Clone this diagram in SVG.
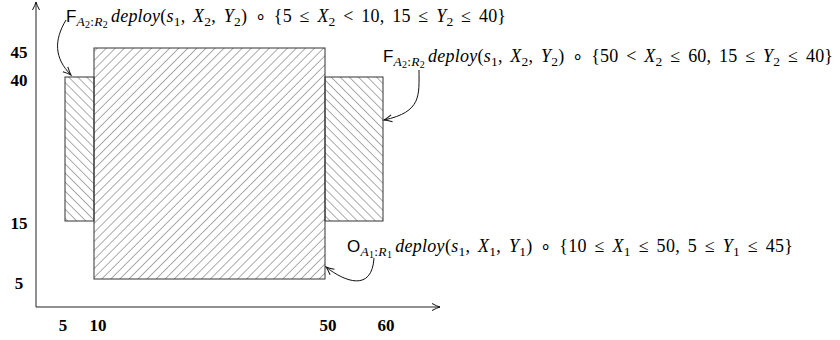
<svg xmlns="http://www.w3.org/2000/svg" width="840" height="340" viewBox="0 0 840 340">
<style>
.m{font-family:"Liberation Serif",serif;font-size:18px;font-style:italic;fill:#000;word-spacing:3px}
.u{font-style:normal}
.sf{font-family:"Liberation Sans",sans-serif;font-style:normal;font-size:17px}
.s{font-size:13.5px}
.ss{font-size:10px}
.tick{font-family:"Liberation Serif",serif;font-weight:bold;font-size:17px;text-anchor:middle;fill:#000}
.ax{stroke:#222;stroke-width:1;fill:none}
.box{stroke:#333;stroke-width:1}
.con{stroke:#111;stroke-width:1;fill:none}
</style>
<defs>
<pattern id="ne" width="6.4" height="6.4" patternUnits="userSpaceOnUse" patternTransform="rotate(45)">
<line x1="0" y1="0" x2="0" y2="6.4" stroke="#111" stroke-width="0.7"/>
</pattern>
<pattern id="nw" width="6.4" height="6.4" patternUnits="userSpaceOnUse" patternTransform="rotate(-45)">
<line x1="0" y1="0" x2="0" y2="6.4" stroke="#111" stroke-width="0.7"/>
</pattern>
<marker id="arr" markerWidth="12" markerHeight="10" refX="10" refY="5" orient="auto" markerUnits="userSpaceOnUse">
<path d="M2,1.5 Q7,4.2 10,5 Q7,5.8 2,8.5" fill="none" stroke="#111" stroke-width="1"/>
</marker>
</defs>
<g id="axes">
<line class="ax" x1="36" y1="307" x2="36" y2="2" marker-end="url(#arr)"/>
<line class="ax" x1="36" y1="307" x2="440" y2="307" marker-end="url(#arr)"/>
<text class="tick" x="19" y="58">45</text>
<text class="tick" x="19" y="86">40</text>
<text class="tick" x="19" y="229">15</text>
<text class="tick" x="19" y="289">5</text>
<text class="tick" x="63" y="331">5</text>
<text class="tick" x="98" y="331">10</text>
<text class="tick" x="328" y="331">50</text>
<text class="tick" x="386" y="331">60</text>
</g>
<g id="f-left">
<rect class="box" x="65" y="77" width="29" height="144" fill="url(#nw)"/>
</g>
<g id="f-right">
<rect class="box" x="325" y="77" width="58" height="144" fill="url(#nw)"/>
</g>
<g id="o-main">
<rect class="box" x="94" y="48" width="231" height="231" fill="url(#ne)"/>
</g>
<g id="connectors">
<path class="con" d="M66,20 C54,40 54,58 71,75" marker-end="url(#arr)"/>
<path class="con" d="M419,70 C419,95 422,112 384,120" marker-end="url(#arr)"/>
<path class="con" d="M374,258 C372,292 345,282 326,267" marker-end="url(#arr)"/>
</g>
<g id="label-f-left">
<text class="m" x="66" y="22" textLength="440" lengthAdjust="spacing"><tspan class="sf">F</tspan><tspan class="s" dy="3.5">A</tspan><tspan class="ss u" dy="2">2</tspan><tspan class="s u" dy="-2">:</tspan><tspan class="s">R</tspan><tspan class="ss u" dy="2">2</tspan><tspan dx="3" dy="-5.5">deploy</tspan><tspan class="u">(</tspan>s<tspan class="s u" dy="3.5">1</tspan><tspan class="u" dy="-3.5">, </tspan>X<tspan class="s u" dy="3.5">2</tspan><tspan class="u" dy="-3.5">, </tspan>Y<tspan class="s u" dy="3.5">2</tspan><tspan class="u" dy="-3.5">) ∘ {5 ≤ </tspan>X<tspan class="s u" dy="3.5">2</tspan><tspan class="u" dy="-3.5"> &lt; 10, 15 ≤ </tspan>Y<tspan class="s u" dy="3.5">2</tspan><tspan class="u" dy="-3.5"> ≤ 40}</tspan></text>
</g>
<g id="label-f-right">
<text class="m" x="383" y="62" textLength="450" lengthAdjust="spacing"><tspan class="sf">F</tspan><tspan class="s" dy="3.5">A</tspan><tspan class="ss u" dy="2">2</tspan><tspan class="s u" dy="-2">:</tspan><tspan class="s">R</tspan><tspan class="ss u" dy="2">2</tspan><tspan dx="3" dy="-5.5">deploy</tspan><tspan class="u">(</tspan>s<tspan class="s u" dy="3.5">1</tspan><tspan class="u" dy="-3.5">, </tspan>X<tspan class="s u" dy="3.5">2</tspan><tspan class="u" dy="-3.5">, </tspan>Y<tspan class="s u" dy="3.5">2</tspan><tspan class="u" dy="-3.5">) ∘ {50 &lt; </tspan>X<tspan class="s u" dy="3.5">2</tspan><tspan class="u" dy="-3.5"> ≤ 60, 15 ≤ </tspan>Y<tspan class="s u" dy="3.5">2</tspan><tspan class="u" dy="-3.5"> ≤ 40}</tspan></text>
</g>
<g id="label-o-main">
<text class="m" x="347" y="252" textLength="446" lengthAdjust="spacing"><tspan class="sf">O</tspan><tspan class="s" dy="3.5">A</tspan><tspan class="ss u" dy="2">1</tspan><tspan class="s u" dy="-2">:</tspan><tspan class="s">R</tspan><tspan class="ss u" dy="2">1</tspan><tspan dx="3" dy="-5.5">deploy</tspan><tspan class="u">(</tspan>s<tspan class="s u" dy="3.5">1</tspan><tspan class="u" dy="-3.5">, </tspan>X<tspan class="s u" dy="3.5">1</tspan><tspan class="u" dy="-3.5">, </tspan>Y<tspan class="s u" dy="3.5">1</tspan><tspan class="u" dy="-3.5">) ∘ {10 ≤ </tspan>X<tspan class="s u" dy="3.5">1</tspan><tspan class="u" dy="-3.5"> ≤ 50, 5 ≤ </tspan>Y<tspan class="s u" dy="3.5">1</tspan><tspan class="u" dy="-3.5"> ≤ 45}</tspan></text>
</g>
</svg>
